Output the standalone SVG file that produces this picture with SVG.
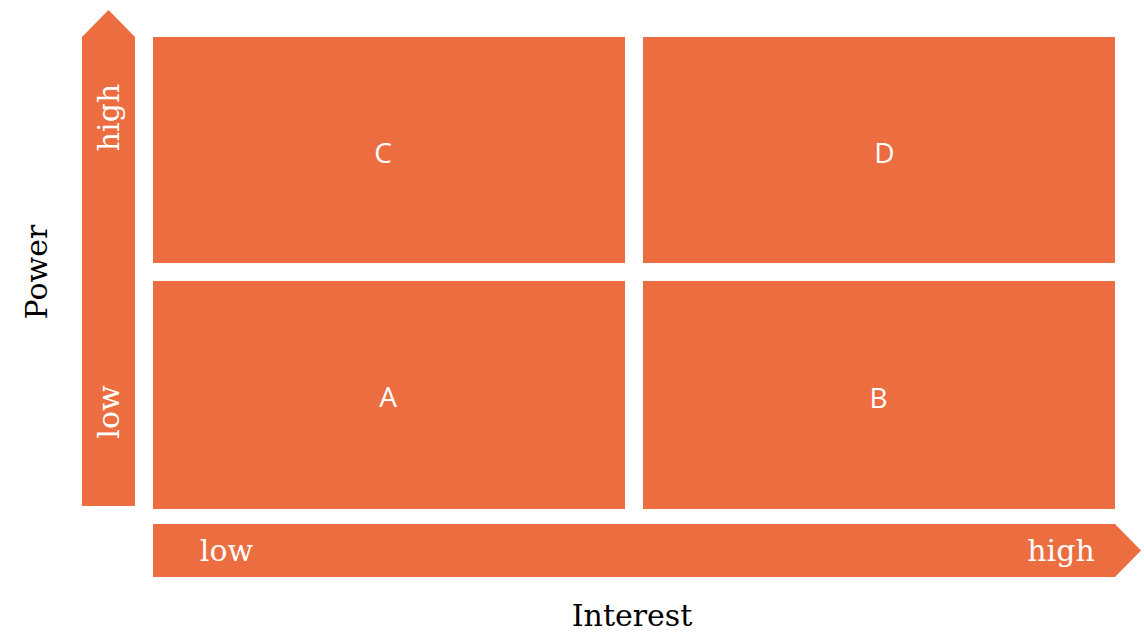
<svg xmlns="http://www.w3.org/2000/svg" width="1144" height="632" viewBox="0 0 1144 632">
  <style>
    .fill { fill: #EC6D40; }
    .cell-label { font-family: "Open Sans", "Noto Sans", sans-serif; font-size: 28px; fill: #FFFFFF; text-anchor: middle; }
    .axis-tick { font-family: "DejaVu Serif", "Liberation Serif", serif; font-size: 30px; fill: #FFFFFF; text-anchor: middle; }
    .axis-title { font-family: "DejaVu Serif", "Liberation Serif", serif; font-size: 30px; fill: #000000; text-anchor: middle; }
  </style>
  <rect width="1144" height="632" fill="#FFFFFF"/>

  <!-- Power axis arrow -->
  <g id="power-axis">
    <polygon class="fill" points="82,506 82,37 108.5,10 135,37 135,506"/>
    <text class="axis-tick" transform="translate(119,117.5) rotate(-90)">high</text>
    <text class="axis-tick" transform="translate(119,412) rotate(-90)">low</text>
    <text class="axis-title" transform="translate(47,272) rotate(-90)">Power</text>
  </g>

  <!-- Interest axis arrow -->
  <g id="interest-axis">
    <polygon class="fill" points="153,524 1115,524 1141,550.5 1115,577 153,577"/>
    <text class="axis-tick" x="226.5" y="561">low</text>
    <text class="axis-tick" x="1061" y="561">high</text>
    <text class="axis-title" x="632" y="626">Interest</text>
  </g>

  <!-- Quadrants -->
  <g id="cell-c">
    <rect class="fill" x="153" y="37" width="472" height="226"/>
    <text class="cell-label" x="383" y="163">C</text>
  </g>
  <g id="cell-d">
    <rect class="fill" x="643" y="37" width="472" height="226"/>
    <text class="cell-label" x="884.5" y="163">D</text>
  </g>
  <g id="cell-a">
    <rect class="fill" x="153" y="281" width="472" height="228"/>
    <text class="cell-label" x="388" y="407">A</text>
  </g>
  <g id="cell-b">
    <rect class="fill" x="643" y="281" width="472" height="228"/>
    <text class="cell-label" x="878.5" y="408">B</text>
  </g>

  <g id="connectors"></g>
</svg>
